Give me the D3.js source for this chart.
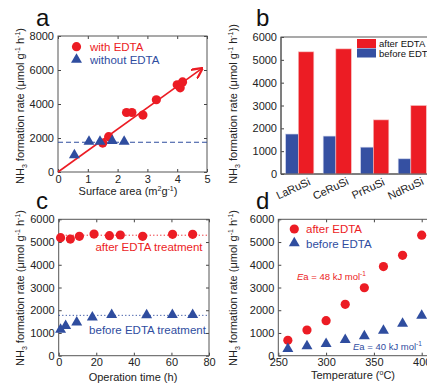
<!DOCTYPE html>
<html>
<head>
<meta charset="utf-8">
<script src="https://cdn.jsdelivr.net/npm/d3@7"></script>
<style>
  body { margin: 0; background: #fff; }
  svg { font-family: "Liberation Sans", Arial, sans-serif; }
  .tick text { font-size: 11px; fill: #222; }
</style>
</head>
<body>
<svg width="427" height="383"></svg>
<script>
// ---- data ----
// panel a
var aWithEDTA = [[1.5,1700],[1.7,2080],[2.3,3500],[2.48,3500],[2.85,3350],[3.3,4250],[4.0,5130],[4.1,4950],[4.18,5300]];
var aWithoutEDTA = [[0.55,960],[1.04,1760],[1.41,1760],[1.82,1800],[2.22,1760]];
var aBaseline = 1750;
var aArrow = [[0,0],[4.8,6050]];
var aXTicks = [0,1,2,3,4,5];
var aYTicks = [0,2000,4000,6000,8000];
// panel b
var bCategories = ["LaRuSi","CeRuSi","PrRuSi","NdRuSi"];
var bBefore = [1750,1660,1175,665];
var bAfter = [5350,5480,2370,3000];
var bYTicks = [0,1000,2000,3000,4000,5000,6000];
// panel c
var cAfter = [[1,5190],[6.2,5130],[11,5250],[18.8,5350],[27,5280],[32.8,5310],[44.7,5250],[60.6,5340],[71.3,5340]];
var cBefore = [[1,1130],[3.7,1290],[9.6,1450],[17.9,1670],[28.2,1775],[46.8,1760],[60.5,1775],[71.3,1775]];
var cAfterLevel = 5300, cBeforeLevel = 1775;
var cXTicks = [0,20,40,60,80];
var cYTicks = [0,1000,2000,3000,4000,5000,6000];
// panel d
var dTemps = [260,280,300,320,340,360,380,400];
var dAfter = [675,1130,1540,2260,2990,3920,4415,5300];
var dBefore = [280,400,500,675,840,1085,1390,1745];
var dXTicks = [250,300,350,400];
var dYTicks = [0,1000,2000,3000,4000,5000,6000];

var RED = "#ec1c24", BLUE = "#2f4d9f";
var svg = d3.select("svg");
var fmt = d3.format("d");

function triangle(g, x, y, color) {
  g.append("path")
    .attr("d", d3.symbol().type(d3.symbolTriangle).size(52)())
    .attr("transform", "translate(" + x + "," + (y - 0.5) + ")")
    .attr("fill", color);
}
function dot(g, x, y, color) {
  g.append("circle").attr("cx", x).attr("cy", y).attr("r", 4.6).attr("fill", color);
}

// frame with inward ticks on all four sides
function frame(box, x, y, xTicks, yTicks) {
  var g = svg.append("g");
  if (xTicks) {
    g.append("g").attr("transform", "translate(0," + box.bottom + ")")
      .call(d3.axisBottom(x).tickValues(xTicks).tickSizeInner(-3).tickSizeOuter(0).tickPadding(3).tickFormat(fmt));
    g.append("g").attr("transform", "translate(0," + box.top + ")")
      .call(d3.axisTop(x).tickValues(xTicks).tickSizeInner(-3).tickSizeOuter(0).tickFormat(""));
  }
  g.append("g").attr("transform", "translate(" + box.left + ",0)")
    .call(d3.axisLeft(y).tickValues(yTicks).tickSizeInner(-3).tickSizeOuter(0).tickPadding(4).tickFormat(fmt));
  g.append("g").attr("transform", "translate(" + box.right + ",0)")
    .call(d3.axisRight(y).tickValues(yTicks).tickSizeInner(-3).tickSizeOuter(0).tickFormat(""));
  g.selectAll(".domain").remove();
  g.selectAll(".tick line").attr("stroke", "#444");
  g.append("rect")
    .attr("x", box.left).attr("y", box.top)
    .attr("width", box.right - box.left).attr("height", box.bottom - box.top)
    .attr("fill", "none").attr("stroke", "#555").attr("stroke-width", 1);
  return g;
}

function yTitle(cx, cy, extra) {
  var t = svg.append("text")
    .attr("transform", "translate(" + cx + "," + cy + ") rotate(-90)")
    .attr("text-anchor", "middle").attr("font-size", 11).attr("fill", "#222");
  t.append("tspan").text("NH");
  t.append("tspan").attr("font-size", 7).attr("dy", 3).text("3");
  t.append("tspan").attr("dy", -3).text(" formation rate (\u03bcmol g");
  t.append("tspan").attr("font-size", 7).attr("dy", -4).text("-1");
  t.append("tspan").attr("dy", 4).text(" h");
  t.append("tspan").attr("font-size", 7).attr("dy", -4).text("-1");
  t.append("tspan").attr("dy", 4).text(extra ? "))" : ")");
}

function letter(x, y, s) {
  svg.append("text").attr("x", x).attr("y", y).attr("font-size", 24).attr("fill", "#111").text(s);
}

// ---- panel a ----
(function () {
  var box = {left: 58, right: 207, top: 36, bottom: 172};
  var x = d3.scaleLinear().domain([0,5]).range([box.left, box.right]);
  var y = d3.scaleLinear().domain([0,8000]).range([box.bottom, box.top]);
  frame(box, x, y, aXTicks, aYTicks);
  var g = svg.append("g");
  g.append("line")
    .attr("x1", box.left).attr("x2", box.right)
    .attr("y1", y(aBaseline)).attr("y2", y(aBaseline))
    .attr("stroke", BLUE).attr("stroke-dasharray", "5,3").attr("stroke-width", 1);
  svg.append("defs").append("marker")
    .attr("id", "arrow").attr("viewBox", "0 0 10 10").attr("refX", 8).attr("refY", 5)
    .attr("markerWidth", 7).attr("markerHeight", 7).attr("orient", "auto")
    .append("path").attr("d", "M0,0 L10,5 L0,10").attr("fill", "none").attr("stroke", RED).attr("stroke-width", 2);
  g.append("line")
    .attr("x1", x(aArrow[0][0])).attr("y1", y(aArrow[0][1]))
    .attr("x2", x(aArrow[1][0])).attr("y2", y(aArrow[1][1]))
    .attr("stroke", RED).attr("stroke-width", 1.6).attr("marker-end", "url(#arrow)");
  aWithEDTA.forEach(function (d) { dot(g, x(d[0]), y(d[1]), RED); });
  aWithoutEDTA.forEach(function (d) { triangle(g, x(d[0]), y(d[1]), BLUE); });
  dot(g, 76.5, 46.7, RED);
  triangle(g, 76.5, 60, BLUE);
  g.append("text").attr("x", 90).attr("y", 50.5).attr("font-size", 11.5).attr("fill", RED).text("with EDTA");
  g.append("text").attr("x", 90).attr("y", 64).attr("font-size", 11.5).attr("fill", BLUE).text("without EDTA");
  var t = svg.append("text").attr("x", 128).attr("y", 195).attr("text-anchor", "middle")
    .attr("font-size", 11).attr("fill", "#222");
  t.append("tspan").text("Surface area (m");
  t.append("tspan").attr("font-size", 7).attr("dy", -4).text("2");
  t.append("tspan").attr("dy", 4).text("g");
  t.append("tspan").attr("font-size", 7).attr("dy", -4).text("-1");
  t.append("tspan").attr("dy", 4).text(")");
  yTitle(24, 106, false);
  letter(36, 26, "a");
})();

// ---- panel b ----
(function () {
  var box = {left: 281, right: 460, top: 37, bottom: 174};
  var x = d3.scaleBand().domain(bCategories).range([281, 431]).paddingInner(0.25).paddingOuter(0.125);
  var y = d3.scaleLinear().domain([0,6000]).range([box.bottom, box.top]);
  var g = svg.append("g");
  var bw = x.bandwidth() * 0.45;
  g.selectAll("rect.before").data(bCategories).enter().append("rect")
    .attr("x", function (d) { return x(d); })
    .attr("y", function (d, i) { return y(bBefore[i]); })
    .attr("width", bw)
    .attr("height", function (d, i) { return box.bottom - y(bBefore[i]); })
    .attr("fill", "#3550a2").attr("stroke", "#c8cde8").attr("stroke-width", 0.6);
  g.selectAll("rect.after").data(bCategories).enter().append("rect")
    .attr("x", function (d) { return x(d) + bw; })
    .attr("y", function (d, i) { return y(bAfter[i]); })
    .attr("width", x.bandwidth() - bw)
    .attr("height", function (d, i) { return box.bottom - y(bAfter[i]); })
    .attr("fill", RED).attr("stroke", "#f6c0c0").attr("stroke-width", 0.6);
  frame(box, x, y, null, bYTicks);
  g.raise();
  svg.append("line").attr("x1", box.left).attr("x2", box.right)
    .attr("y1", box.bottom).attr("y2", box.bottom).attr("stroke", "#555");
  svg.append("line").attr("x1", box.left).attr("x2", box.left)
    .attr("y1", box.top).attr("y2", box.bottom).attr("stroke", "#555");
  // legend
  var lg = svg.append("g");
  lg.append("rect").attr("x", 357).attr("y", 39).attr("width", 19).attr("height", 9).attr("fill", RED);
  lg.append("rect").attr("x", 357).attr("y", 48.5).attr("width", 19).attr("height", 9).attr("fill", "#3550a2");
  lg.append("text").attr("x", 379).attr("y", 47).attr("font-size", 9.5).attr("fill", "#111").text("after EDTA");
  lg.append("text").attr("x", 379).attr("y", 56.5).attr("font-size", 9.5).attr("fill", "#111").text("before EDTA");
  svg.selectAll("text.cat").data(bCategories).enter().append("text")
    .attr("class", "cat")
    .attr("transform", function (d) {
      return "translate(" + (x(d) + x.bandwidth() / 2 - 5) + ",192) rotate(-25)";
    })
    .attr("text-anchor", "middle").attr("font-size", 11).attr("fill", "#222")
    .text(function (d) { return d; });
  yTitle(237, 104, true);
  letter(256, 26, "b");
})();

// ---- panel c ----
(function () {
  var box = {left: 58.7, right: 209, top: 219.3, bottom: 355.7};
  var x = d3.scaleLinear().domain([0,80]).range([box.left, box.right]);
  var y = d3.scaleLinear().domain([0,6000]).range([box.bottom, box.top]);
  frame(box, x, y, cXTicks, cYTicks);
  var g = svg.append("g");
  g.append("line").attr("x1", box.left).attr("x2", box.right)
    .attr("y1", y(cAfterLevel)).attr("y2", y(cAfterLevel))
    .attr("stroke", RED).attr("stroke-dasharray", "1.2,2.3");
  g.append("line").attr("x1", box.left).attr("x2", box.right)
    .attr("y1", y(cBeforeLevel)).attr("y2", y(cBeforeLevel))
    .attr("stroke", BLUE).attr("stroke-dasharray", "1.2,2.3");
  cAfter.forEach(function (d) { dot(g, x(d[0]), y(d[1]), RED); });
  cBefore.forEach(function (d) { triangle(g, x(d[0]), y(d[1]), BLUE); });
  g.append("text").attr("x", 149).attr("y", 251).attr("text-anchor", "middle")
    .attr("font-size", 11.5).attr("fill", RED).text("after EDTA treatment");
  g.append("text").attr("x", 147.5).attr("y", 334).attr("text-anchor", "middle")
    .attr("font-size", 11.5).attr("fill", BLUE).text("before EDTA treatment");
  svg.append("text").attr("x", 133).attr("y", 381).attr("text-anchor", "middle")
    .attr("font-size", 11).attr("fill", "#222").text("Operation time (h)");
  yTitle(24, 288, false);
  letter(36, 209, "c");
})();

// ---- panel d ----
(function () {
  var box = {left: 278.3, right: 469.5, top: 219.3, bottom: 355.7};
  var x = d3.scaleLinear().domain([250,450]).range([box.left, box.right]);
  var y = d3.scaleLinear().domain([0,6000]).range([box.bottom, box.top]);
  frame(box, x, y, dXTicks, dYTicks);
  var g = svg.append("g");
  dTemps.forEach(function (t, i) {
    dot(g, x(t), y(dAfter[i]), RED);
    triangle(g, x(t), y(dBefore[i]), BLUE);
  });
  dot(g, 294.3, 229, RED);
  triangle(g, 294.3, 243.7, BLUE);
  g.append("text").attr("x", 306).attr("y", 233).attr("font-size", 11.5).attr("fill", RED).text("after EDTA");
  g.append("text").attr("x", 306).attr("y", 247.5).attr("font-size", 11.5).attr("fill", BLUE).text("before EDTA");
  function ea(xp, yp, val, color) {
    var t = g.append("text").attr("x", xp).attr("y", yp).attr("font-size", 9.5).attr("fill", color);
    t.append("tspan").attr("font-style", "italic").text("E");
    t.append("tspan").text("a = " + val + " kJ mol");
    t.append("tspan").attr("font-size", 6.5).attr("dy", -4).text("-1");
  }
  ea(297, 279.5, 48, RED);
  ea(353, 350, 40, BLUE);
  var t = svg.append("text").attr("x", 353).attr("y", 379).attr("text-anchor", "middle")
    .attr("font-size", 11).attr("fill", "#222");
  t.append("tspan").text("Temperature (");
  t.append("tspan").attr("font-size", 7).attr("dy", -4).text("o");
  t.append("tspan").attr("dy", 4).text("C)");
  yTitle(237, 288, false);
  letter(256, 209, "d");
})();
</script>
</body>
</html>
